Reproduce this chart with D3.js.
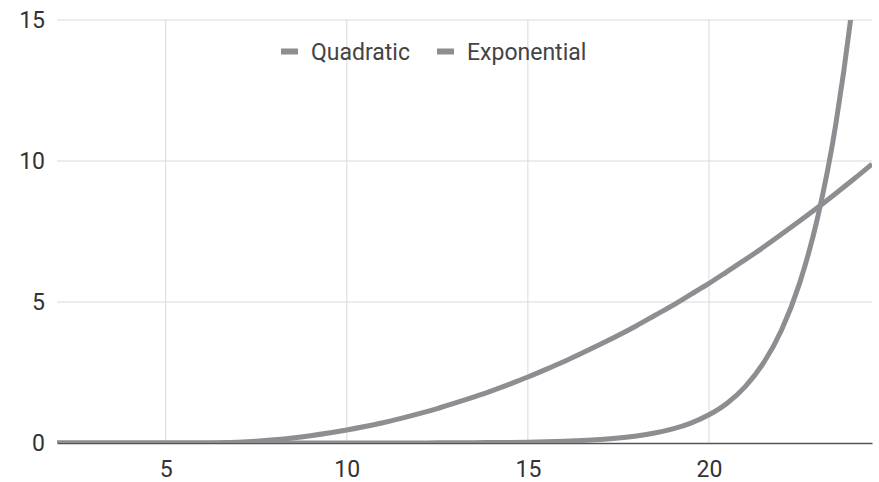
<!DOCTYPE html>
<html><head><meta charset="utf-8">
<script src="https://cdn.jsdelivr.net/npm/d3@7"></script>
<style>body{margin:0;background:#fff}svg{display:block}text{font-family:Roboto,sans-serif}</style>
</head><body><svg id="c" width="879" height="482"></svg>
<script>
const xValues = [2,2.5,3,3.5,4,4.5,5,5.5,6,6.5,7,7.5,8,8.5,9,9.5,10,10.5,11,11.5,12,12.5,13,13.5,14,14.5,15,15.5,16,16.5,17,17.5,18,18.5,19,19.5,20,20.5,21,21.5,22,22.5,23,23.5,24,24.5];
const quadratic = [0,0,0,0,0,0,0,0,0,0.007,0.029,0.065,0.116,0.18,0.26,0.354,0.462,0.585,0.72,0.874,1.04,1.22,1.42,1.63,1.85,2.09,2.34,2.61,2.89,3.19,3.5,3.82,4.16,4.52,4.88,5.27,5.66,6.08,6.5,6.94,7.4,7.87,8.35,8.85,9.36,9.89];
const exponential = [0,0,0,0,0,0,0,0,0,0,0,0,0,0,0.001,0.001,0.001,0.001,0.002,0.003,0.004,0.005,0.008,0.011,0.016,0.022,0.031,0.044,0.0625,0.088,0.125,0.177,0.25,0.354,0.5,0.707,1.0,1.41,2.0,2.83,4.0,5.66,8.0,11.3,16.0,22.6];
const seriesNames = ["Quadratic","Exponential"];
const xTicks = [5,10,15,20];
const yTicks = [0,5,10,15];

const svg = d3.select("#c");
const L=57,R=872,T=20,B=443;
const x = d3.scaleLinear().domain([2,24.5]).range([L,R]);
const y = d3.scaleLinear().domain([0,15]).range([B,T]);

const grid = svg.append("g");
grid.selectAll("line.v").data(xTicks).join("line")
  .attr("x1",d=>x(d)).attr("x2",d=>x(d)).attr("y1",T).attr("y2",B)
  .attr("stroke","#d9d9d9").attr("stroke-width",1);
grid.selectAll("line.h").data(yTicks.filter(d=>d>0)).join("line")
  .attr("x1",L).attr("x2",R).attr("y1",d=>y(d)).attr("y2",d=>y(d))
  .attr("stroke","#d9d9d9").attr("stroke-width",1);

svg.append("g").attr("transform",`translate(0,${B})`)
  .call(d3.axisBottom(x).tickValues(xTicks).tickSize(0).tickPadding(18).tickFormat(d3.format("d")))
  .call(g=>g.select(".domain").attr("stroke","#555").attr("stroke-width",1.3))
  .call(g=>g.selectAll("text").attr("font-size",23).attr("fill","#333").attr("font-family","Roboto"));

svg.append("g").attr("transform",`translate(${L},0)`)
  .call(d3.axisLeft(y).tickValues(yTicks).tickSize(0).tickPadding(12).tickFormat(d3.format("d")))
  .call(g=>g.select(".domain").remove())
  .call(g=>g.selectAll("text").attr("font-size",23).attr("fill","#333").attr("font-family","Roboto"));

svg.append("defs").append("clipPath").attr("id","clip").append("rect")
  .attr("x",L).attr("y",T).attr("width",R-L).attr("height",B-T);

const line = d3.line().x((d,i)=>x(xValues[i])).y(d=>y(d)).curve(d3.curveMonotoneX);
const plot = svg.append("g").attr("clip-path","url(#clip)");
[quadratic, exponential].forEach(s=>{
  plot.append("path").datum(s).attr("d",line).attr("fill","none")
    .attr("stroke","#8e8e92").attr("stroke-width",5).attr("stroke-linejoin","round");
});

const leg = svg.append("g");
const legX = [281,437];
seriesNames.forEach((n,i)=>{
  leg.append("rect").attr("x",legX[i]).attr("y",48.5).attr("width",17).attr("height",6).attr("fill","#8e8e92");
  leg.append("text").attr("x",legX[i]+30).attr("y",59.5).attr("font-size",23).attr("fill","#444").text(n);
});
</script></body></html>
